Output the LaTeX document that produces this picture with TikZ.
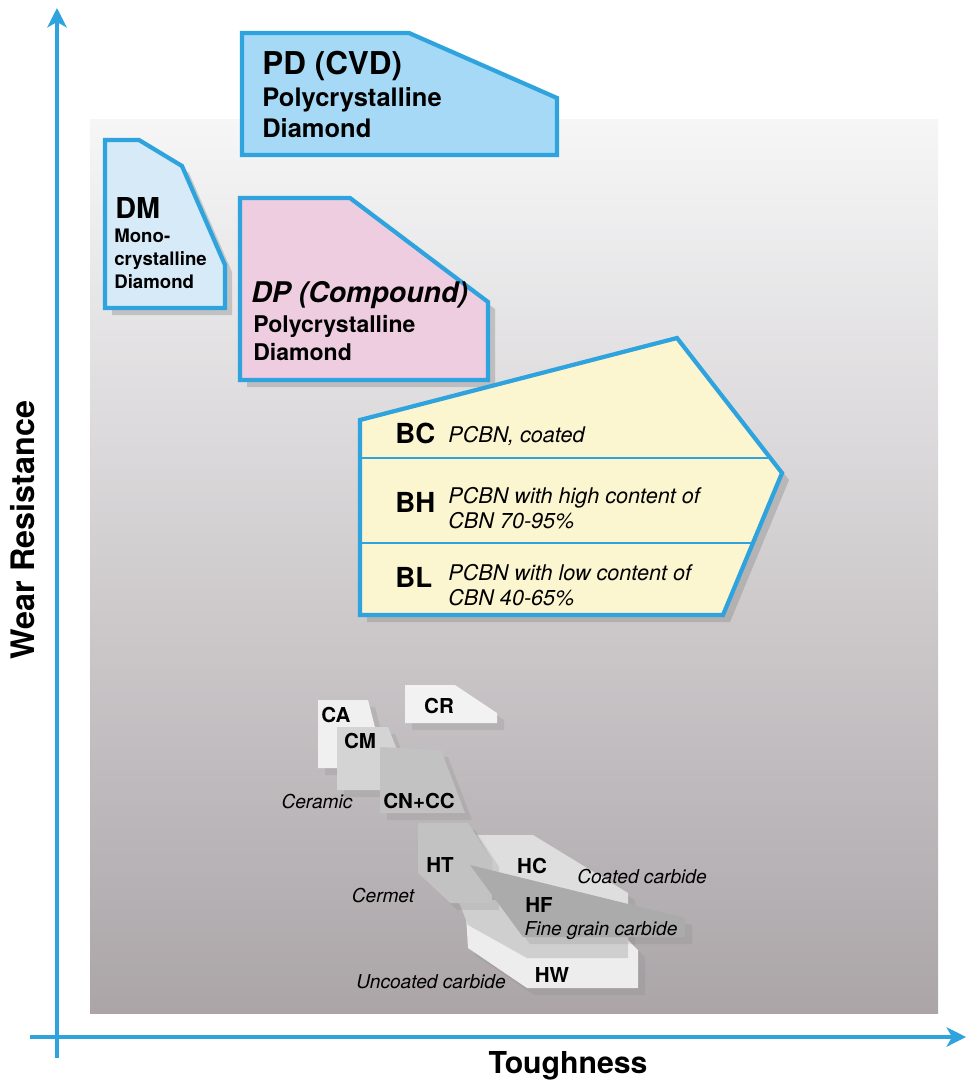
\documentclass[tikz,border=0pt]{standalone}
\usepackage{fontspec}
\setmainfont{TeX Gyre Heros}
\usetikzlibrary{arrows.meta,shadows}
\definecolor{axisblue}{HTML}{2EA3DD}
\definecolor{pdfill}{HTML}{A5D9F5}
\definecolor{dmfill}{HTML}{D6EAF7}
\definecolor{dpfill}{HTML}{EFCDE1}
\definecolor{bfill}{HTML}{FBF5D0}
\definecolor{bgtop}{HTML}{F6F6F7}
\definecolor{bgmid}{HTML}{D9D7D9}
\definecolor{bgbot}{HTML}{ABA5A8}
\newcommand{\fsz}[1]{\fontsize{#1}{#1}\selectfont}

\begin{document}
\begin{tikzpicture}[x=0.02cm,y=-0.02cm,
    axis/.style={axisblue,line width=2.4pt,-{Stealth[length=11pt,width=11pt,inset=3pt]}},
    plate/.style={draw=axisblue,line width=2.4pt,line join=miter},
    shad/.style={drop shadow={shadow xshift=4pt,shadow yshift=-4pt,opacity=0.35}},
    chip/.style={drop shadow={shadow xshift=4pt,shadow yshift=-4pt,opacity=0.2}},
    txt/.style={anchor=base west,inner sep=0pt},
    lbl/.style={anchor=base,inner sep=0pt,font=\bfseries\fsz{11.7}},
    note/.style={anchor=base,inner sep=0pt,font=\itshape\fsz{10.9}},
    desc/.style={anchor=base west,inner sep=0pt,align=left,font=\itshape\fontsize{12.3}{14.2}\selectfont}]
    \useasboundingbox (0,0) rectangle (968,1081);

    %background
    \shade[top color=bgtop,middle color=bgmid,bottom color=bgbot] (90,120) rectangle (938,1013);

    %axes
    \coordinate (ybot) at (57,1058);
    \coordinate (ytop) at (57,8);
    \coordinate (xleft) at (30,1037);
    \coordinate (xright) at (966,1037);
    \draw[axis] (ybot) -- (ytop);
    \draw[axis] (xleft) -- (xright);
    \node[rotate=90,font=\bfseries\fsz{18.4}] (wear) at (23,530) {Wear Resistance};
    \node[anchor=base,font=\bfseries\fsz{17.2}] (tough) at (568,1073) {Toughness};

    %diamond grades
    \draw[plate,fill=pdfill] (242,33) -- (409,33) -- (557,98) -- (557,155) -- (242,155) -- cycle;
    \node[txt,font=\bfseries\fsz{17.9}] (pdT) at (262,75) {PD (CVD)};
    \node[txt,font=\bfseries\fsz{14.5}] (pdL1) at (262,107) {Polycrystalline};
    \node[txt,font=\bfseries\fsz{14.5}] (pdL2) at (262,138) {Diamond};

    \draw[plate,fill=dmfill,shad] (105,140) -- (139,140) -- (182,166) -- (225,265) -- (225,308) -- (105,308) -- cycle;
    \node[txt,font=\bfseries\fsz{16.4}] (dmT) at (115,218) {DM};
    \node[txt,font=\bfseries\fsz{10.6}] (dmL1) at (114,242) {Mono-};
    \node[txt,font=\bfseries\fsz{10.6}] (dmL2) at (114,265) {crystalline};
    \node[txt,font=\bfseries\fsz{10.6}] (dmL3) at (114,288) {Diamond};

    \draw[plate,fill=dpfill,shad] (240,198) -- (350,198) -- (488,302) -- (488,380) -- (240,380) -- cycle;
    \node[txt,font=\bfseries\itshape\fsz{16.2}] (dpT) at (251,302) {DP (Compound)};
    \node[txt,font=\bfseries\fsz{13.1}] (dpL1) at (253,332) {Polycrystalline};
    \node[txt,font=\bfseries\fsz{13.1}] (dpL2) at (253,360) {Diamond};

    %PCBN grades
    \draw[plate,fill=bfill,shad] (360,420) -- (677,338) -- (782,473) -- (723,615) -- (360,615) -- cycle;
    \draw[axisblue,line width=1.5pt] (360,458) -- (768,458);
    \draw[axisblue,line width=1.5pt] (360,543) -- (752,543);
    \node[txt,font=\bfseries\fsz{15.7}] (bcT) at (395,443) {BC};
    \node[desc] (bcD) at (448,442) {PCBN, coated};
    \node[txt,font=\bfseries\fsz{15.7}] (bhT) at (395,512) {BH};
    \node[desc] (bhD) at (448,528) {PCBN with high content of\\CBN 70-95\%};
    \node[txt,font=\bfseries\fsz{15.7}] (blT) at (395,587) {BL};
    \node[desc] (blD) at (448,605) {PCBN with low content of\\CBN 40-65\%};

    %ceramics and cermets
    \fill[black!6,chip] (318,700) -- (368,700) -- (377,735) -- (377,768) -- (318,768) -- cycle;
    \fill[black!17,chip] (337,727) -- (388,727) -- (396,747) -- (396,790) -- (337,790) -- cycle;
    \fill[black!24,chip] (380,747) -- (441,750) -- (465,813) -- (380,813) -- cycle;
    \fill[black!5,chip] (405,685) -- (455,685) -- (497,713) -- (497,723) -- (405,723) -- cycle;

    %carbides
    \fill[black!7,chip] (466,915) -- (628,915) -- (628,940) -- (638,950) -- (638,988) -- (527,988) -- (468,948) -- cycle;
    \fill[black!19] (458,900) -- (495,900) -- (560,937) -- (628,937) -- (628,958) -- (527,958) -- (468,925) -- cycle;
    \fill[black!13,chip] (477,835) -- (533,835) -- (628,893) -- (628,910) -- (492,880) -- (492,860) -- cycle;
    \fill[black!24,chip] (418,823) -- (468,823) -- (492,860) -- (492,903) -- (450,903) -- (418,873) -- cycle;
    \fill[black!33,chip] (470,865) -- (685,918) -- (685,937) -- (523,937) -- cycle;

    \node[lbl] (caL) at (336,722) {CA};
    \node[lbl] (cmL) at (360,748) {CM};
    \node[lbl] (cnL) at (419,808) {CN+CC};
    \node[lbl] (crL) at (439,713) {CR};
    \node[lbl] (htL) at (440,872) {HT};
    \node[lbl] (hcL) at (532,873) {HC};
    \node[lbl] (hfL) at (539,912) {HF};
    \node[lbl] (hwL) at (552,982) {HW};
    \node[note] (ceramic) at (317,808) {Ceramic};
    \node[note] (cermet) at (383,902) {Cermet};
    \node[note] (coated) at (642,883) {Coated carbide};
    \node[note] (finegrain) at (601,935) {Fine grain carbide};
    \node[note] (uncoated) at (431,988) {Uncoated carbide};
\end{tikzpicture}
\end{document}
